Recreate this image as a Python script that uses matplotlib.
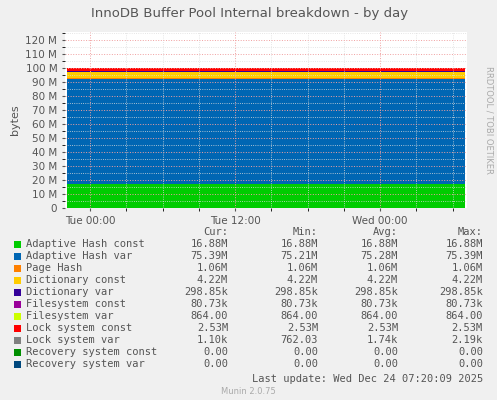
import matplotlib
matplotlib.use("Agg")
import matplotlib.pyplot as plt
import numpy as np

names = ["Adaptive Hash const","Adaptive Hash var","Page Hash","Dictionary const","Dictionary var",
         "Filesystem const","Filesystem var","Lock system const","Lock system var",
         "Recovery system const","Recovery system var"]
colors = ["#00CC00","#0066B3","#FF8000","#FFCC00","#330099","#990099","#CCFF00","#FF0000","#808080","#008F00","#00487D"]
values_m = [16.88, 75.30, 1.06, 4.22, 0.29885, 0.08073, 0.000864, 2.53, 0.0011, 0.0, 0.0]
cur = ["16.88M","75.39M","1.06M","4.22M","298.85k","80.73k","864.00","2.53M","1.10k","0.00","0.00"]
mn  = ["16.88M","75.21M","1.06M","4.22M","298.85k","80.73k","864.00","2.53M","762.03","0.00","0.00"]
avg = ["16.88M","75.28M","1.06M","4.22M","298.85k","80.73k","864.00","2.53M","1.74k","0.00","0.00"]
mx  = ["16.88M","75.39M","1.06M","4.22M","298.85k","80.73k","864.00","2.53M","2.19k","0.00","0.00"]
xt_pos = [0, 12, 24]
xt_lab = ["Tue 00:00","Tue 12:00","Wed 00:00"]

W, H = 497, 400
fig = plt.figure(figsize=(W/100, H/100), dpi=100, facecolor="#F0F0F0")
ax = fig.add_axes([65/W, 1-208/H, (467-65)/W, (208-32)/H])
ax.set_facecolor("white")
t = np.array([-1.9, 31.0])
ys = [np.full(2, v*1e6) for v in values_m]
ax.stackplot(t, *ys, colors=colors, linewidth=0)
ax.set_xlim(-2.07, 31.2)
ax.set_ylim(0, 126e6)
ax.set_yticks(np.arange(0, 121e6, 10e6))
ax.set_yticklabels(["0"] + [f"{i} M" for i in range(10, 121, 10)])
ax.set_yticks(np.arange(0, 126e6, 5e6), minor=True)
ax.set_xticks(xt_pos)
ax.set_xticklabels(xt_lab)
ax.set_xticks(np.arange(-0, 31, 3), minor=True)
ax.grid(True, which="minor", color="#DDDDDD", linestyle=":", linewidth=0.6)
ax.grid(True, which="major", color="#F0A0A0", linestyle=":", linewidth=0.7)
ax.set_axisbelow(False)
ax.tick_params(labelsize=7.5, colors="#555555", length=2)
for s in ax.spines.values():
    s.set_visible(False)
ax.set_ylabel("bytes", fontsize=8, color="#555555")

def ft(x, y, s, **kw):
    kw.setdefault("fontsize", 7.5)
    kw.setdefault("color", "#555555")
    fig.text(x/W, 1-y/H, s, va="center", **kw)

ft(250, 13, "InnoDB Buffer Pool Internal breakdown - by day", ha="center", fontsize=9.5)
ft(489, 120, "RRDTOOL / TOBI OETIKER", ha="center", rotation=270, fontsize=6, color="#AAAAAA")
for x, h in [(228,"Cur:"),(318,"Min:"),(398,"Avg:"),(483,"Max:")]:
    ft(x, 232, h, ha="right", family="DejaVu Sans Mono")
for i, n in enumerate(names):
    y = 244 + 12*i
    fig.patches.append(plt.Rectangle((14/W, 1-(y+3.5)/H), 7/W, 7/H, transform=fig.transFigure,
                                     facecolor=colors[i], edgecolor="none"))
    ft(26, y, n, family="DejaVu Sans Mono")
    for x, arr in [(228,cur),(318,mn),(398,avg),(483,mx)]:
        ft(x, y, arr[i], ha="right", family="DejaVu Sans Mono")
ft(483, 379, "Last update: Wed Dec 24 07:20:09 2025", ha="right", family="DejaVu Sans Mono")
ft(248, 392, "Munin 2.0.75", ha="center", fontsize=6, color="#AAAAAA")
fig.savefig("out.png", dpi=100, facecolor=fig.get_facecolor())
